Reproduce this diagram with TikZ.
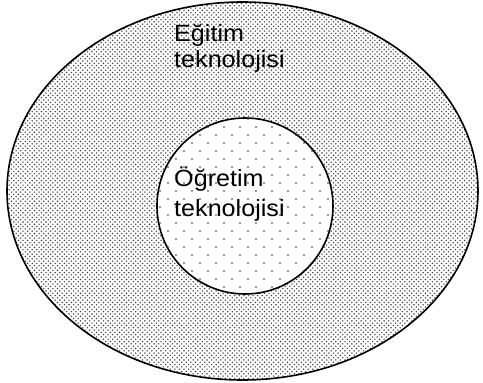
\documentclass[tikz,border=0pt]{standalone}
\usepackage{fontspec}
\setmainfont{Liberation Sans}
\usetikzlibrary{patterns}

\pgfdeclarepatternformonly{densedots}{\pgfqpoint{-1pt}{-1pt}}{\pgfqpoint{4pt}{4pt}}{\pgfqpoint{4.6pt}{4.6pt}}{%
  \pgfpathcircle{\pgfqpoint{0pt}{0pt}}{0.8pt}
  \pgfpathcircle{\pgfqpoint{2.3pt}{2.3pt}}{0.8pt}
  \pgfusepath{fill}}
\pgfdeclarepatternformonly{sparsedots}{\pgfqpoint{-1pt}{-1pt}}{\pgfqpoint{15pt}{15pt}}{\pgfqpoint{16pt}{16pt}}{%
  \pgfpathcircle{\pgfqpoint{0pt}{0pt}}{0.8pt}
  \pgfpathcircle{\pgfqpoint{8pt}{8pt}}{0.8pt}
  \pgfusepath{fill}}

\tikzset{
  outer/.style={line width=1.6pt, pattern=densedots, pattern color=black!75},
  inner/.style={line width=1.6pt, fill=white, postaction={pattern=sparsedots, pattern color=black!80}},
  label/.style={anchor=base west, inner sep=0pt, xscale=1.07, transform shape,
    font=\fontsize{23.5}{26}\selectfont}
}

\begin{document}
\begin{tikzpicture}[x=1pt,y=1pt]
  \useasboundingbox (0,0) rectangle (483,383);
  % outer ellipse and inner circle
  \draw[outer] (242.5,192) ellipse [x radius=235.5, y radius=189];
  \draw[inner] (245,177) circle [radius=88];
  % labels
  \node[label] (egitim1) at (174,341) {Eğitim};
  \node[label] (egitim2) at (174,315) {teknolojisi};
  \node[label] (ogretim1) at (174,196) {Öğretim};
  \node[label] (ogretim2) at (174,166) {teknolojisi};
\end{tikzpicture}
\end{document}
